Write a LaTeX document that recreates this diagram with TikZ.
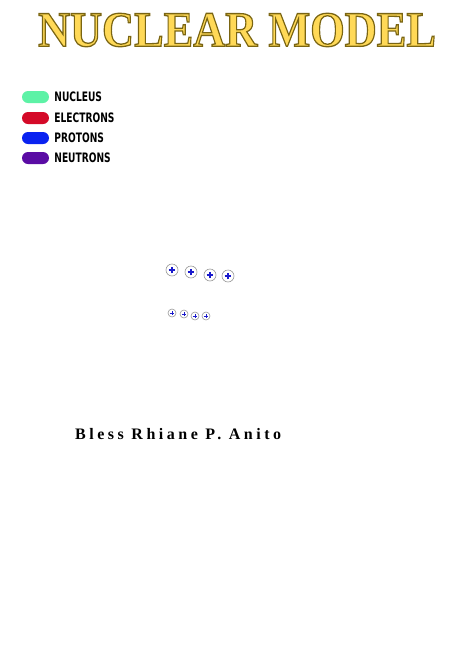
\documentclass[tikz,border=0pt]{standalone}
\usepackage{fontspec}
\setmainfont{Liberation Serif}
\newfontfamily\legendfont{DejaVu Sans}
\newfontfamily\namefont[LetterSpace=22]{Liberation Serif}
\usetikzlibrary{positioning,calc}

\definecolor{titlefill}{HTML}{FFD957}
\definecolor{titleedge}{HTML}{7A6512}
\definecolor{nucleuscol}{HTML}{5DF2A6}
\definecolor{electroncol}{HTML}{D40A28}
\definecolor{protoncol}{HTML}{0A22F0}
\definecolor{neutroncol}{HTML}{5A0CA4}
\definecolor{plusblue}{HTML}{1A1ACC}

\newcommand{\titleword}{\resizebox{398pt}{33pt}{\fontsize{46}{46}\selectfont\bfseries
  \color{titlefill}\special{pdf:literal direct 0.478 0.396 0.071 RG 2 Tr 1.2 w}NUCLEAR MODEL\special{pdf:literal direct 0 Tr}}}

\begin{document}
\begin{tikzpicture}[x=1pt,y=-1pt,node distance=5pt,
  pill/.style={fill=#1, rounded corners=6pt, minimum width=27pt,
               minimum height=12pt, inner sep=0pt},
  keytext/.style={font=\legendfont\bfseries\fontsize{13}{13}\selectfont,
                  inner sep=0pt, anchor=west},
  proton/.style 2 args={circle, draw=gray!80, line width=0.6pt, minimum size=#1,
                 inner sep=0pt,
                 path picture={
                   \draw[plusblue, line width=#2]
                     ($(path picture bounding box.west)!0.22!(path picture bounding box.east)$) --
                     ($(path picture bounding box.west)!0.78!(path picture bounding box.east)$)
                     ($(path picture bounding box.south)!0.22!(path picture bounding box.north)$) --
                     ($(path picture bounding box.south)!0.78!(path picture bounding box.north)$);}}]

  \useasboundingbox[fill=white] (0,0) rectangle (474,670);

  % title
  \node[inner sep=0pt] (title) at (237,30) {\titleword};

  % legend
  \node[pill=nucleuscol]  (nucleus)  at (35.5,97)  {};
  \node[pill=electroncol] (electron) at (35.5,118) {};
  \node[pill=protoncol]   (proton)   at (35.5,138) {};
  \node[pill=neutroncol]  (neutron)  at (35.5,158) {};
  \node[keytext, right=5pt of nucleus]  {\scalebox{0.7}[1]{NUCLEUS}};
  \node[keytext, right=5pt of electron] {\scalebox{0.7}[1]{ELECTRONS}};
  \node[keytext, right=5pt of proton]   {\scalebox{0.7}[1]{PROTONS}};
  \node[keytext, right=5pt of neutron]  {\scalebox{0.7}[1]{NEUTRONS}};

  % protons
  \node[proton={12pt}{1.2pt}] (pa1) at (172,270) {};
  \node[proton={12pt}{1.2pt}] (pa2) at (191,272) {};
  \node[proton={12pt}{1.2pt}] (pa3) at (210,275) {};
  \node[proton={12pt}{1.2pt}] (pa4) at (228,276) {};
  \node[proton={8pt}{0.8pt}] (pb1) at (172,313) {};
  \node[proton={8pt}{0.8pt}] (pb2) at (184,314) {};
  \node[proton={8pt}{0.8pt}] (pb3) at (195,316) {};
  \node[proton={8pt}{0.8pt}] (pb4) at (206,316) {};

  % name
  \node[anchor=west, inner sep=0pt, font=\namefont\bfseries\fontsize{16}{16}\selectfont]
    (author) at (75,434) {Bless Rhiane P. Anito};

\end{tikzpicture}
\end{document}
